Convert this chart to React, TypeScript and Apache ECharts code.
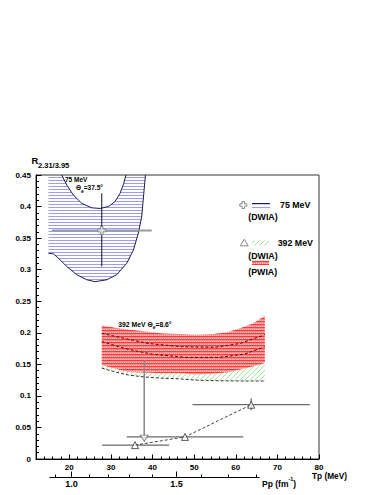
import React, { useEffect, useRef } from 'react';
import * as echarts from 'echarts';

const FONT = "'Liberation Sans', Arial, Helvetica, sans-serif";

// ---- axes ----
const tpMin = 12;
const tpMax = 80;
const tpMajorTicks = [20, 30, 40, 50, 60, 70, 80];
const rMin = 0;
const rMax = 0.45;
const rStep = 0.05;
const ppMajorTicks = [1.0, 1.5];
const ppMinorTicks = [0.9, 1.1, 1.2, 1.3, 1.4, 1.6, 1.7, 1.8];
const ppAxisEnds = [0.855, 1.81];
const HBARC = 197.327;
const MP = 938.272;

// ---- 75 MeV DWIA band (Tp, R) ----
const band75Lower = [
  [15.0, 0.326], [16.2, 0.325], [17.4, 0.318], [19.4, 0.305], [21.8, 0.292],
  [24.2, 0.284], [26.2, 0.281], [29.0, 0.284], [31.4, 0.292], [33.8, 0.310],
  [35.4, 0.331], [36.6, 0.358], [37.4, 0.384], [37.9, 0.421], [38.3, 0.450],
];
const band75Upper = [
  [18.2, 0.450], [19.4, 0.434], [21.0, 0.418], [23.0, 0.405], [25.4, 0.398],
  [27.4, 0.397], [29.4, 0.400], [31.0, 0.408], [32.2, 0.421], [33.1, 0.437], [33.6, 0.450],
];

// ---- 392 MeV PWIA band ----
const pwiaUpper = [
  [27.8, 0.212], [31.0, 0.208], [34.2, 0.205], [38.6, 0.202], [42.6, 0.199], [46.6, 0.198],
  [50.6, 0.197], [54.6, 0.198], [58.0, 0.201], [61.0, 0.207], [64.2, 0.215], [67.0, 0.227],
];
const pwiaLower = [
  [27.8, 0.149], [31.0, 0.143], [34.2, 0.138], [38.2, 0.137], [42.2, 0.136], [46.6, 0.136],
  [50.2, 0.134], [54.6, 0.135], [58.6, 0.138], [62.6, 0.144], [65.0, 0.148], [67.0, 0.152],
];

// ---- 392 MeV DWIA band ----
const dwiaUpper = [
  [27.8, 0.199], [34.0, 0.190], [39.0, 0.183], [47.0, 0.178], [55.0, 0.177], [61.0, 0.183], [67.0, 0.197],
];
const dwiaMid = [
  [27.8, 0.186], [34.0, 0.174], [40.0, 0.166], [48.0, 0.161], [56.0, 0.161], [62.0, 0.166], [67.0, 0.178],
];
const dwiaLower = [
  [27.8, 0.144], [31.0, 0.138], [34.2, 0.133], [38.0, 0.130], [42.2, 0.128],
  [46.6, 0.127], [50.2, 0.125], [56.0, 0.124], [62.0, 0.1236], [67.0, 0.1236],
];

// ---- data points ----
const tp75 = [27.8];
const r75 = [0.362];
const tp75Lo = [15.8];
const tp75Hi = [39.8];
const r75Lo = [0.305];
const r75Hi = [0.421];

const tp392 = [35.8, 47.8, 63.7];
const r392 = [0.022, 0.035, 0.086];
const tp392Lo = [27.9, 33.8, 49.6];
const tp392Hi = [44.0, 61.8, 77.8];
const r392Lo = [0.022, 0.035, 0.077];
const r392Hi = [0.022, 0.035, 0.096];

const arrowTp = 38.0;
const arrowTop = 0.157;
const arrowBottom = 0.033;

const tpOfPp = (p: number) => Math.sqrt((p * HBARC) ** 2 + MP * MP) - MP;

function makePattern(w: number, h: number, draw: (ctx: CanvasRenderingContext2D) => void) {
  const c = document.createElement('canvas');
  c.width = w;
  c.height = h;
  const ctx = c.getContext('2d') as CanvasRenderingContext2D;
  draw(ctx);
  return { image: c, repeat: 'repeat', imageWidth: w, imageHeight: h } as any;
}

function bandSeries(poly: number[][], fill: any, z: number) {
  return {
    type: 'custom',
    coordinateSystem: 'cartesian2d',
    clip: true,
    silent: true,
    z,
    data: [[poly[0][0], poly[0][1]]],
    renderItem: (_p: any, api: any) => ({
      type: 'polygon',
      shape: { points: poly.map((pt) => api.coord(pt)) },
      style: { fill, stroke: 'none' },
    }),
  };
}

function errSeries(rows: number[][], hColor: string, hWidth: number, vColor: string, z: number) {
  return {
    type: 'custom',
    coordinateSystem: 'cartesian2d',
    clip: false,
    silent: true,
    z,
    data: rows,
    renderItem: (_p: any, api: any) => {
      const x = api.value(0);
      const y = api.value(1);
      const pL = api.coord([api.value(2), y]);
      const pH = api.coord([api.value(3), y]);
      const pB = api.coord([x, api.value(4)]);
      const pT = api.coord([x, api.value(5)]);
      const children: any[] = [
        { type: 'line', shape: { x1: pL[0], y1: pL[1], x2: pH[0], y2: pH[1] }, style: { stroke: hColor, lineWidth: hWidth } },
      ];
      if (Math.abs(pB[1] - pT[1]) > 0.5) {
        children.push({ type: 'line', shape: { x1: pB[0], y1: pB[1], x2: pT[0], y2: pT[1] }, style: { stroke: vColor, lineWidth: 1 } });
      }
      return { type: 'group', children };
    },
  };
}

function crossPts(cx: number, cy: number, s: number, a: number) {
  return [
    [cx - a, cy - s], [cx + a, cy - s], [cx + a, cy - a], [cx + s, cy - a], [cx + s, cy + a], [cx + a, cy + a],
    [cx + a, cy + s], [cx - a, cy + s], [cx - a, cy + a], [cx - s, cy + a], [cx - s, cy - a], [cx - a, cy - a],
  ];
}

function txt(x: number, y: number, text: string, size: number, align = 'left', extra: any = {}) {
  return {
    type: 'text',
    x,
    y,
    z: 100,
    silent: true,
    style: {
      text,
      fill: '#000',
      font: `bold ${size}px ${FONT}`,
      align,
      textAlign: align,
      verticalAlign: 'middle',
      textVerticalAlign: 'middle',
      ...extra,
    },
  };
}

export default function App() {
  const ref = useRef<HTMLDivElement>(null);

  useEffect(() => {
    document.body.style.margin = '0';
    const el = ref.current as HTMLDivElement;
    const chart = echarts.init(el, null, { renderer: 'svg' });

    const bluePat = makePattern(4, 3, (ctx) => {
      ctx.fillStyle = '#9c9cf6';
      ctx.fillRect(0, 0, 4, 1);
    });
    const redPat = makePattern(4, 3, (ctx) => {
      ctx.fillStyle = '#ff8a8a';
      ctx.fillRect(0, 0, 4, 3);
      ctx.fillStyle = '#ff3a3a';
      ctx.fillRect(0, 0, 4, 1);
      ctx.fillStyle = '#ffc4c4';
      ctx.fillRect(0, 2, 1, 1);
      ctx.fillRect(2, 2, 1, 1);
    });
    const greenPat = makePattern(5, 5, (ctx) => {
      ctx.fillStyle = '#98e898';
      for (let i = 0; i < 5; i++) ctx.fillRect(i, 4 - i, 1, 1);
    });

    const bluePoly = [...band75Lower, ...band75Upper.slice().reverse(), [band75Lower[0][0], rMax]];
    const redPoly = [...pwiaUpper, ...pwiaLower.slice().reverse()];
    const greenPoly = [...dwiaUpper, ...dwiaLower.slice().reverse()];

    const rows75 = tp75.map((t, i) => [t, r75[i], tp75Lo[i], tp75Hi[i], r75Lo[i], r75Hi[i]]);
    const rows392 = tp392.map((t, i) => [t, r392[i], tp392Lo[i], tp392Hi[i], r392Lo[i], r392Hi[i]]);

    const ppAxisSeries = {
      type: 'custom',
      coordinateSystem: 'cartesian2d',
      clip: false,
      silent: true,
      z: 50,
      data: [[40, 0.2]],
      renderItem: (_p: any, api: any) => {
        const base = api.coord([tpMin, rMin]);
        const y0 = Math.round(base[1]) + 18.5;
        const px = (p: number) => Math.round(api.coord([tpOfPp(p), rMin])[0]) + 0.5;
        const children: any[] = [
          { type: 'line', shape: { x1: px(ppAxisEnds[0]), y1: y0, x2: px(ppAxisEnds[1]), y2: y0 }, style: { stroke: '#000', lineWidth: 1 } },
        ];
        ppMinorTicks.forEach((p) => {
          children.push({ type: 'line', shape: { x1: px(p), y1: y0, x2: px(p), y2: y0 - 3 }, style: { stroke: '#000', lineWidth: 1 } });
        });
        ppMajorTicks.forEach((p) => {
          children.push({ type: 'line', shape: { x1: px(p), y1: y0, x2: px(p), y2: y0 - 6 }, style: { stroke: '#000', lineWidth: 1 } });
          children.push({
            type: 'text',
            x: px(p),
            y: y0 + 2,
            style: { text: p.toFixed(1), fill: '#000', font: `bold 9px ${FONT}`, align: 'center', textAlign: 'center', verticalAlign: 'top', textVerticalAlign: 'top' },
          });
        });
        return { type: 'group', children };
      },
    };

    const option: any = {
      animation: false,
      backgroundColor: '#ffffff',
      grid: {
        left: 36, top: 175, width: 283, height: 284,
        show: true, borderColor: '#333', borderWidth: 1, backgroundColor: 'transparent',
      },
      xAxis: [
        {
          type: 'value', min: tpMin, max: tpMax, interval: 2, position: 'bottom',
          axisLine: { show: true, onZero: false, lineStyle: { color: '#000', width: 1 } },
          axisTick: { show: true, inside: true, length: 2.5, lineStyle: { color: '#000' } },
          axisLabel: { show: true, customValues: tpMajorTicks, margin: 4, fontSize: 8, fontWeight: 'bold', fontFamily: FONT, color: '#000' },
          splitLine: { show: false },
        },
        {
          type: 'value', min: tpMin, max: tpMax, position: 'bottom', offset: 0,
          axisLine: { show: false },
          axisTick: { show: true, inside: true, length: 4.5, customValues: tpMajorTicks, lineStyle: { color: '#000' } },
          axisLabel: { show: false },
          splitLine: { show: false },
        },
      ],
      yAxis: {
        type: 'value', min: rMin, max: rMax, interval: rStep,
        axisLine: { show: true, onZero: false, lineStyle: { color: '#000', width: 1 } },
        axisTick: { show: true, inside: true, length: 5.5, lineStyle: { color: '#000' } },
        minorTick: { show: true, splitNumber: 5, length: 3, lineStyle: { color: '#000' } },
        axisLabel: { margin: 5, fontSize: 8, fontWeight: 'bold', fontFamily: FONT, color: '#000' },
        splitLine: { show: false },
        minorSplitLine: { show: false },
      },
      series: [
        bandSeries(bluePoly, bluePat, 1),
        { type: 'line', data: band75Lower, symbol: 'none', silent: true, z: 3, clip: true, lineStyle: { color: '#1c1c4c', width: 1 } },
        { type: 'line', data: band75Upper, symbol: 'none', silent: true, z: 3, clip: true, lineStyle: { color: '#1c1c4c', width: 1 } },
        bandSeries(greenPoly, greenPat, 1),
        bandSeries(redPoly, redPat, 2),
        { type: 'line', data: dwiaLower, symbol: 'none', silent: true, z: 4, lineStyle: { color: '#333', width: 1, type: [3, 2] } },
        { type: 'line', data: dwiaUpper, symbol: 'none', silent: true, z: 4, lineStyle: { color: '#5a0000', width: 1, type: [3, 2] } },
        { type: 'line', data: dwiaMid, symbol: 'none', silent: true, z: 4, lineStyle: { color: '#5a0000', width: 1, type: [3, 2] } },
        { type: 'line', data: [[arrowTp, arrowTop], [arrowTp, arrowBottom]], symbol: 'none', silent: true, z: 5, lineStyle: { color: '#888', width: 1.5 } },
        {
          type: 'scatter', data: [[arrowTp, arrowBottom]], symbol: 'triangle', symbolRotate: 180, symbolSize: [8, 6], silent: true, z: 6,
          itemStyle: { color: '#fff', borderColor: '#666', borderWidth: 1 },
        },
        errSeries(rows75, '#9a9a9a', 2, '#111', 6),
        errSeries(rows392, '#444', 1, '#444', 6),
        {
          type: 'line', data: tp392.map((t, i) => [t, r392[i]]), symbol: 'none', silent: true, z: 6,
          lineStyle: { color: '#444', width: 1, type: [3, 2] },
        },
        {
          type: 'scatter', data: tp75.map((t, i) => [t, r75[i]]), silent: true, z: 8,
          symbol: 'path://M3,0H6V3H9V6H6V9H3V6H0V3H3Z', symbolSize: 8,
          itemStyle: { color: '#fff', borderColor: '#777', borderWidth: 1 },
        },
        {
          type: 'scatter', data: tp392.map((t, i) => [t, r392[i]]), silent: true, z: 8,
          symbol: 'triangle', symbolSize: 7,
          itemStyle: { color: '#fff', borderColor: '#333', borderWidth: 1 },
        },
        ppAxisSeries,
      ],
      graphic: [
        // y-axis title
        txt(31.5, 160, 'R', 9.5),
        txt(38, 165.5, '2.31/3.95', 7.5),
        // x-axis titles
        txt(347, 475.5, 'Tp (MeV)', 8.3, 'right'),
        {
          type: 'text', x: 262, y: 482, z: 100, silent: true,
          style: {
            text: '{a|Pp (fm}{s|-1}{a|)}', fill: '#000', font: `bold 8.5px ${FONT}`,
            align: 'left', textAlign: 'left', verticalAlign: 'middle', textVerticalAlign: 'middle',
            rich: {
              a: { fontSize: 8.5, fontWeight: 'bold', fontFamily: FONT, lineHeight: 12, verticalAlign: 'bottom' },
              s: { fontSize: 5.5, fontWeight: 'bold', fontFamily: FONT, lineHeight: 6, verticalAlign: 'top' },
            },
          },
        },
        // annotations
        txt(65, 179.5, '75 MeV', 6.5),
        {
          type: 'text', x: 76, y: 188.5, z: 100, silent: true,
          style: {
            text: '{a|Θ}{s|e}{a|=37.5°}', fill: '#000', font: `bold 6.5px ${FONT}`,
            align: 'left', textAlign: 'left', verticalAlign: 'middle', textVerticalAlign: 'middle',
            rich: {
              a: { fontSize: 6.5, fontWeight: 'bold', fontFamily: FONT, lineHeight: 9, verticalAlign: 'top' },
              s: { fontSize: 5, fontWeight: 'bold', fontFamily: FONT, lineHeight: 5, verticalAlign: 'bottom' },
            },
          },
        },
        {
          type: 'text', x: 118.3, y: 325, z: 100, silent: true,
          style: {
            text: '{a|392 MeV Θ}{s|e}{a|=8.6°}', fill: '#000', font: `bold 6.8px ${FONT}`,
            align: 'left', textAlign: 'left', verticalAlign: 'middle', textVerticalAlign: 'middle',
            rich: {
              a: { fontSize: 6.8, fontWeight: 'bold', fontFamily: FONT, lineHeight: 9, verticalAlign: 'top' },
              s: { fontSize: 5, fontWeight: 'bold', fontFamily: FONT, lineHeight: 5, verticalAlign: 'bottom' },
            },
          },
        },
        // legend
        { type: 'polygon', z: 100, silent: true, shape: { points: crossPts(243.3, 205, 3.5, 1.2) }, style: { fill: '#fff', stroke: '#888', lineWidth: 1 } },
        { type: 'rect', z: 100, silent: true, shape: { x: 252, y: 204.5, width: 18, height: 4 }, style: { fill: bluePat } },
        { type: 'line', z: 100, silent: true, shape: { x1: 252, y1: 203.5, x2: 270, y2: 203.5 }, style: { stroke: '#1c1c4c', lineWidth: 1 } },
        txt(280, 205, '75 MeV', 8.8),
        txt(248.3, 217, '(DWIA)', 8.8),
        { type: 'polygon', z: 100, silent: true, shape: { points: [[244.3, 239.2], [248.2, 245.8], [240.4, 245.8]] }, style: { fill: '#fff', stroke: '#888', lineWidth: 1 } },
        { type: 'rect', z: 100, silent: true, shape: { x: 252, y: 240.5, width: 17, height: 5 }, style: { fill: greenPat } },
        txt(277.7, 243, '392 MeV', 8.8),
        txt(248.3, 255.5, '(DWIA)', 8.8),
        { type: 'rect', z: 100, silent: true, shape: { x: 252, y: 260.5, width: 17, height: 4.5 }, style: { fill: redPat } },
        txt(248.3, 272, '(PWIA)', 8.8),
      ],
    };

    chart.setOption(option);
    return () => chart.dispose();
  }, []);

  return <div ref={ref} style={{ position: 'absolute', left: 0, top: 0, width: 383, height: 495 }} />;
}
